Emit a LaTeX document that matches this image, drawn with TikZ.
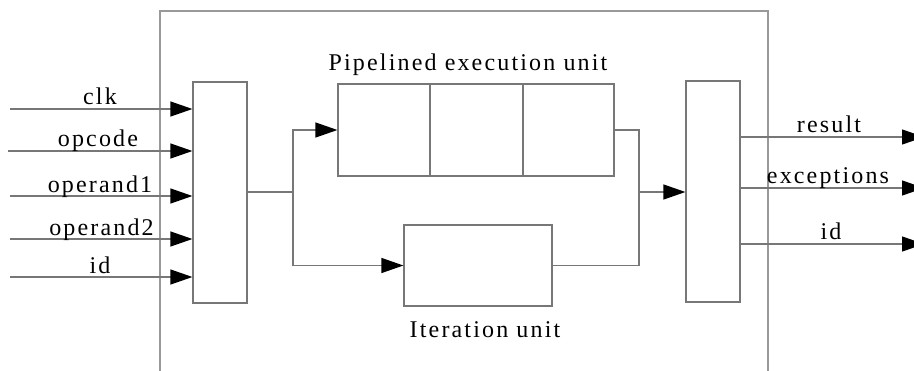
\documentclass[tikz,border=0pt]{standalone}
\usepackage{fontspec}
\setmainfont{Liberation Serif}
\newfontfamily\labelfont[LetterSpace=9]{Liberation Serif}
\usetikzlibrary{arrows.meta}
\definecolor{wire}{HTML}{777777}
\definecolor{frame}{HTML}{999999}
\tikzset{
  wire/.style={draw=wire, line width=1.2pt},
  sig/.style={wire, -{Triangle[length=22pt,width=15pt,fill=black,color=black]}},
  blockbox/.style={draw=wire, line width=1.2pt, fill=white},
  siglabel/.style={font=\labelfont\fontsize{24}{26}\selectfont, anchor=base, inner sep=0pt, text=black},
  unitlabel/.style={font=\labelfont\fontsize{24}{26}\selectfont, anchor=base, inner sep=0pt, text=black},
}
\begin{document}
\begin{tikzpicture}[x=1pt, y=-1pt]
\useasboundingbox (0,0) rectangle (914,370);

% enclosing unit, open at the bottom
\draw[draw=frame, line width=1.6pt] (160,380) -- (160,11) -- (768,11) -- (768,380);

% input and output stages
\node[blockbox, minimum width=54pt, minimum height=221pt, inner sep=0pt] (inbox) at (220,192.5) {};
\node[blockbox, minimum width=54pt, minimum height=221pt, inner sep=0pt] (outbox) at (713,191.5) {};

% pipelined execution unit: three stages
\node[blockbox, minimum width=92pt, minimum height=92pt, inner sep=0pt] (p1) at (384,130) {};
\node[blockbox, minimum width=93pt, minimum height=92pt, inner sep=0pt] (p2) at (476.5,130) {};
\node[blockbox, minimum width=91pt, minimum height=92pt, inner sep=0pt] (p3) at (568.5,130) {};
\node[unitlabel] (ptitle) at (468,70.5) {Pipelined execution unit};

% iteration unit
\node[blockbox, minimum width=148pt, minimum height=81pt, inner sep=0pt] (iter) at (478,265.5) {};
\node[unitlabel] (ititle) at (485,337) {Iteration unit};

% input signals
\coordinate (iclk) at (10,109);
\coordinate (iop) at (8,151);
\coordinate (ia) at (10,196);
\coordinate (ib) at (10,239);
\coordinate (iid) at (10,277);
\draw[sig] (iclk) -- (iclk -| inbox.west);
\draw[sig] (iop) -- (iop -| inbox.west);
\draw[sig] (ia) -- (ia -| inbox.west);
\draw[sig] (ib) -- (ib -| inbox.west);
\draw[sig] (iid) -- (iid -| inbox.west);
\node[siglabel] (lclk) at (100,104.5) {clk};
\node[siglabel] (lop) at (98,146.3) {opcode};
\node[siglabel] (la) at (100,192) {operand1};
\node[siglabel] (lb) at (101.5,235) {operand2};
\node[siglabel] (lid) at (100,273) {id};

% dispatch to both units
\coordinate (split) at (293,192);
\draw[wire] (inbox.east |- split) -- (split);
\draw[sig] (split) |- (p1.west);
\draw[sig] (split) |- (iter.west);

% merge of both units
\coordinate (merge) at (639,192);
\draw[wire] (p3.east) -| (merge);
\draw[wire] (iter.east) -| (merge);
\draw[sig] (merge) -- (merge -| outbox.west);

% output signals
\coordinate (ores) at (924,137);
\coordinate (oexc) at (924,188);
\coordinate (oid) at (924,244);
\draw[sig] (ores -| outbox.east) -- (ores);
\draw[sig] (oexc -| outbox.east) -- (oexc);
\draw[sig] (oid -| outbox.east) -- (oid);
\node[siglabel] (lres) at (829,132) {result};
\node[siglabel] (lexc) at (828,183) {exceptions};
\node[siglabel] (loid) at (831,239) {id};
\end{tikzpicture}
\end{document}
